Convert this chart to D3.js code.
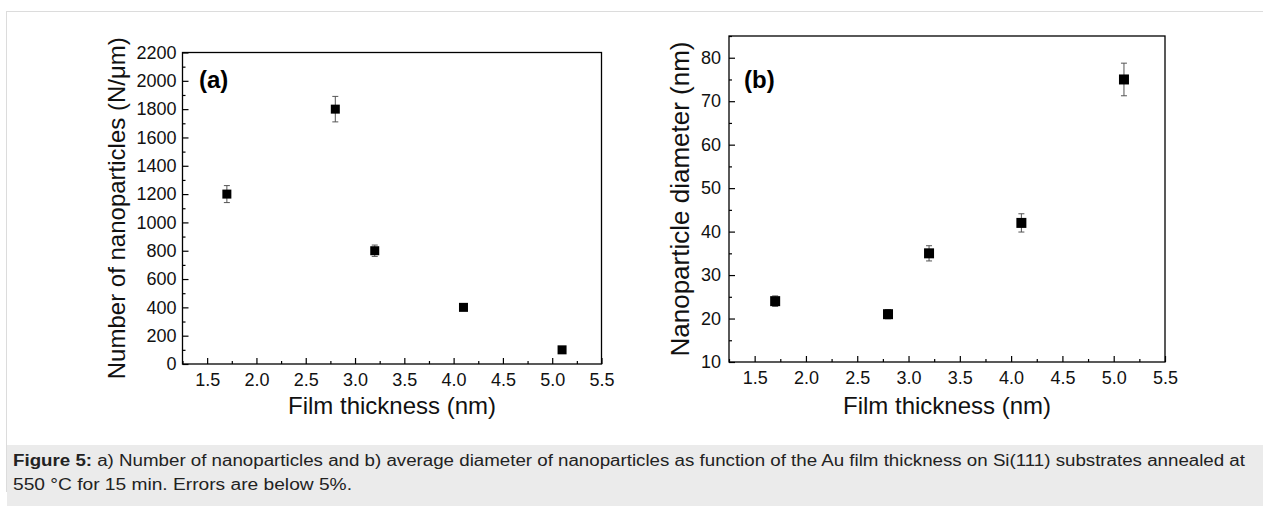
<!DOCTYPE html>
<html>
<head>
<meta charset="utf-8">
<script src="https://cdn.jsdelivr.net/npm/d3@7"></script>
<style>
  body { margin: 0; background: #fff; }
  svg { display: block; font-family: "Liberation Sans", Arial, sans-serif; }
</style>
</head>
<body>
<svg id="fig" width="1263" height="506"></svg>
<script>
// Film thickness (nm) of the Au layers
const thickness = [1.7, 2.8, 3.2, 4.1, 5.1];
// (a) nanoparticle count per µm and its error
const countValues = [1200, 1800, 800, 400, 100];
const countErrors = [60, 90, 40, 20, 5];
// (b) mean nanoparticle diameter (nm) and its error
const diameterValues = [24, 21, 35, 42, 75];
const diameterErrors = [1.2, 1.05, 1.75, 2.1, 3.75];
// tick values
const xTicks = [1.5, 2.0, 2.5, 3.0, 3.5, 4.0, 4.5, 5.0, 5.5];
const countTicks = [0, 200, 400, 600, 800, 1000, 1200, 1400, 1600, 1800, 2000, 2200];
const diameterTicks = [10, 20, 30, 40, 50, 60, 70, 80];
const captionLines = [
  ["Figure 5:", " a) Number of nanoparticles and b) average diameter of nanoparticles as function of the Au film thickness on Si(111) substrates annealed at"],
  ["", "550 \u00b0C for 15 min. Errors are below 5%."]
];
const captionWidths = [1232, 339];

const svg = d3.select("#fig");

// figure frame and caption band
svg.append("rect").attr("x", 6.5).attr("y", 11.5).attr("width", 1270).attr("height", 480)
  .attr("fill", "#fff").attr("stroke", "#dcdcdc").attr("stroke-width", 1);
svg.append("rect").attr("x", 7).attr("y", 445).attr("width", 1256).attr("height", 61)
  .attr("fill", "#ebebeb");

const cap = svg.append("g").attr("font-size", 16).attr("fill", "#222");
captionLines.forEach((ln, i) => {
  const t = cap.append("text").attr("x", 13).attr("y", 466 + i * 24)
    .attr("textLength", captionWidths[i]).attr("lengthAdjust", "spacingAndGlyphs");
  if (ln[0]) t.append("tspan").attr("font-weight", "bold").text(ln[0]);
  t.append("tspan").text(ln[1]);
});

function panel(opts) {
  const { left, top, right, bottom, yDomain, yTicks, yMinorStep, values, errors,
          yLabel, yLabelX, yLabelSize, tag, tagX, tagY, yPad, markerSize } = opts;
  const x = d3.scaleLinear().domain([1.25, 5.5]).range([left, right]);
  const y = d3.scaleLinear().domain(yDomain).range([bottom, top]);
  const g = svg.append("g");

  // plot box
  g.append("rect").attr("x", left).attr("y", top)
    .attr("width", right - left).attr("height", bottom - top)
    .attr("fill", "none").attr("stroke", "#000").attr("stroke-width", 1.3);

  // minor ticks
  const xMinor = d3.range(1.25, 5.5001, 0.25).filter(v => Math.abs((v * 2) % 1) > 1e-6);
  g.append("g").attr("transform", `translate(0,${bottom})`)
    .call(d3.axisBottom(x).tickValues(xMinor).tickSize(-3).tickFormat(""))
    .call(a => a.select(".domain").remove());
  const yMinor = d3.range(yDomain[0], yDomain[1] + 1e-6, yMinorStep)
    .filter(v => !yTicks.some(t => Math.abs(t - v) < 1e-6));
  g.append("g").attr("transform", `translate(${left},0)`)
    .call(d3.axisLeft(y).tickValues(yMinor).tickSize(-3).tickFormat(""))
    .call(a => a.select(".domain").remove());

  // major ticks with labels
  const xa = g.append("g").attr("transform", `translate(0,${bottom})`)
    .call(d3.axisBottom(x).tickValues(xTicks).tickSize(-6).tickPadding(9).tickFormat(d3.format(".1f")));
  const ya = g.append("g").attr("transform", `translate(${left},0)`)
    .call(d3.axisLeft(y).tickValues(yTicks).tickSize(-6).tickPadding(yPad).tickFormat(d3.format("d")));
  [xa, ya].forEach(a => {
    a.select(".domain").remove();
    a.selectAll("text").attr("font-size", 18).attr("fill", "#111")
      .attr("font-family", "'Liberation Sans', Arial, sans-serif");
  });
  g.selectAll(".tick line").attr("stroke", "#000").attr("stroke-width", 1.2);

  // axis titles
  g.append("text").attr("x", (left + right) / 2).attr("y", 414)
    .attr("text-anchor", "middle").attr("font-size", 24).attr("fill", "#111")
    .text("Film thickness (nm)");
  g.append("text")
    .attr("transform", `translate(${yLabelX},${(top + bottom) / 2}) rotate(-90)`)
    .attr("text-anchor", "middle").attr("dy", "0.35em").attr("font-size", yLabelSize).attr("fill", "#111")
    .text(yLabel);

  // panel tag
  g.append("text").attr("x", tagX).attr("y", tagY).attr("font-size", 24)
    .attr("font-weight", "bold").attr("fill", "#000").text(tag);

  // error bars
  const data = thickness.map((t, i) => ({ t, v: values[i], e: errors[i] }));
  const eb = g.append("g").attr("stroke", "#555").attr("stroke-width", 1);
  eb.selectAll("line.v").data(data).join("line").attr("class", "v")
    .attr("x1", d => x(d.t)).attr("x2", d => x(d.t))
    .attr("y1", d => y(d.v - d.e)).attr("y2", d => y(d.v + d.e));
  ["lo", "hi"].forEach(k => {
    eb.selectAll("line." + k).data(data).join("line").attr("class", k)
      .attr("x1", d => x(d.t) - 3).attr("x2", d => x(d.t) + 3)
      .attr("y1", d => y(k === "lo" ? d.v - d.e : d.v + d.e))
      .attr("y2", d => y(k === "lo" ? d.v - d.e : d.v + d.e));
  });

  // square markers
  g.append("g").selectAll("rect").data(data).join("rect")
    .attr("x", d => x(d.t) - markerSize / 2).attr("y", d => y(d.v) - markerSize / 2)
    .attr("width", markerSize).attr("height", markerSize).attr("fill", "#000");
}

panel({
  left: 182.5, top: 52.5, right: 601.5, bottom: 364,
  yDomain: [0, 2200], yTicks: countTicks, yMinorStep: 100,
  values: countValues, errors: countErrors,
  yLabel: "Number of nanoparticles (N/\u03bcm)", yLabelX: 117, yLabelSize: 24,
  tag: "(a)", tagX: 199, tagY: 88, yPad: 6, markerSize: 9
});

panel({
  left: 729, top: 36, right: 1165, bottom: 362,
  yDomain: [10, 85], yTicks: diameterTicks, yMinorStep: 5,
  values: diameterValues, errors: diameterErrors,
  yLabel: "Nanoparticle diameter (nm)", yLabelX: 680, yLabelSize: 26,
  tag: "(b)", tagX: 744, tagY: 88, yPad: 8, markerSize: 10
});
</script>
</body>
</html>
